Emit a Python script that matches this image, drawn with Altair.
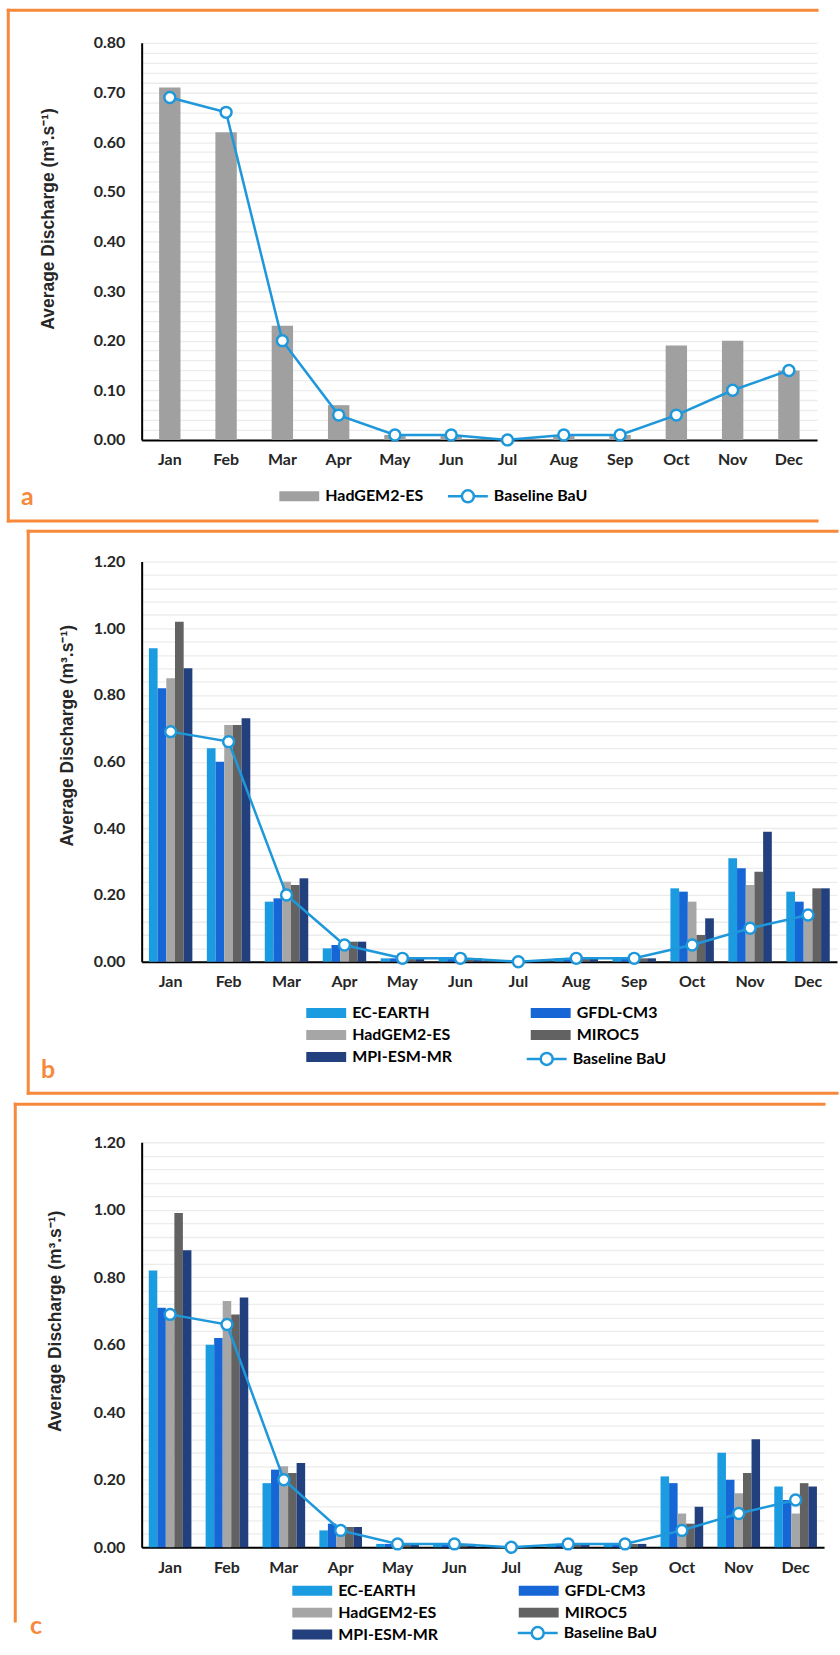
import altair as alt
import pandas as pd

# ---------------- data ----------------
months = ["Jan", "Feb", "Mar", "Apr", "May", "Jun", "Jul", "Aug", "Sep", "Oct", "Nov", "Dec"]
baseline_bau = [0.69, 0.66, 0.20, 0.05, 0.01, 0.01, 0.00, 0.01, 0.01, 0.05, 0.10, 0.14]

# panel a
a_models = ["HadGEM2-ES"]
a_hadgem2_es = [0.71, 0.62, 0.23, 0.07, 0.01, 0.01, 0.00, 0.01, 0.01, 0.19, 0.20, 0.14]

# panels b and c
models = ["EC-EARTH", "GFDL-CM3", "HadGEM2-ES", "MIROC5", "MPI-ESM-MR"]
b_ec_earth = [0.94, 0.64, 0.18, 0.04, 0.01, 0.01, 0.00, 0.01, 0.01, 0.22, 0.31, 0.21]
b_gfdl_cm3 = [0.82, 0.60, 0.19, 0.05, 0.01, 0.01, 0.00, 0.01, 0.01, 0.21, 0.28, 0.18]
b_hadgem2_es = [0.85, 0.71, 0.24, 0.05, 0.01, 0.01, 0.00, 0.01, 0.01, 0.18, 0.23, 0.14]
b_miroc5 = [1.02, 0.71, 0.23, 0.06, 0.01, 0.01, 0.00, 0.01, 0.01, 0.08, 0.27, 0.22]
b_mpi_esm_mr = [0.88, 0.73, 0.25, 0.06, 0.01, 0.01, 0.00, 0.01, 0.01, 0.13, 0.39, 0.22]

c_ec_earth = [0.82, 0.60, 0.19, 0.05, 0.01, 0.01, 0.00, 0.01, 0.01, 0.21, 0.28, 0.18]
c_gfdl_cm3 = [0.71, 0.62, 0.23, 0.07, 0.01, 0.01, 0.00, 0.01, 0.01, 0.19, 0.20, 0.14]
c_hadgem2_es = [0.68, 0.73, 0.24, 0.05, 0.01, 0.01, 0.00, 0.01, 0.01, 0.10, 0.16, 0.10]
c_miroc5 = [0.99, 0.69, 0.22, 0.06, 0.01, 0.01, 0.00, 0.01, 0.01, 0.07, 0.22, 0.19]
c_mpi_esm_mr = [0.88, 0.74, 0.25, 0.06, 0.01, 0.01, 0.00, 0.01, 0.01, 0.12, 0.32, 0.18]

y_ticks_a = [round(i * 0.02, 2) for i in range(41)]
y_ticks_bc = [round(i * 0.04, 2) for i in range(31)]

# ---------------- style ----------------
FONT = "Lato"
TITLE_FONT = "Liberation Sans"
ORANGE = "#f7893b"
LINE_BLUE = "#1e98da"
a_colors = ["#a0a0a0"]
model_colors = ["#1b9be0", "#1766d6", "#a6a6a6", "#626262", "#223f7e"]
RECT_PATH = "M-4,-1H4V1H-4Z"
LINE_PATH = "M-4,0H-1.2M1.2,0H4M-1.2,0A1.2,1.2,0,1,0,1.2,0A1.2,1.2,0,1,0,-1.2,0Z"
Y_TITLE = "Average Discharge (m³.s⁻¹)"
FRAME_LEFT = 7.3
FRAME_RIGHT = 818


def long_df(mods, series):
    rows = []
    for m, vals in zip(mods, series):
        for mon, v in zip(months, vals):
            rows.append({"month": mon, "model": m, "value": v})
    return pd.DataFrame(rows)


base_df = pd.DataFrame({"month": months, "series": "Baseline BaU", "value": baseline_bau})


def panel(letter, bars_df, domain, colors, ymax, ticks, label_every, w, h, pl, pt,
          frame_top, frame_bottom, has_bottom, bar_leg, bar_cols, col_pad, line_leg,
          letter_pos, title_pos, pad_inner):
    x = alt.X("month:N", sort=months,
              scale=alt.Scale(domain=months, paddingInner=pad_inner, paddingOuter=pad_inner / 2),
              axis=alt.Axis(title=None, labelAngle=0, ticks=False, labelPadding=12, grid=False))
    y = alt.Y("value:Q", scale=alt.Scale(domain=[0, ymax], nice=False, zero=True),
              axis=alt.Axis(title=Y_TITLE, values=ticks, format=".2f",
                            labelExpr=f"round(datum.value*100) % {label_every} === 0 ? datum.label : ''",
                            labelOverlap=False, ticks=False, labelPadding=17, grid=True,
                            titleX=title_pos[0] - pl, titleY=title_pos[1] - pt, titleAngle=270,
                            titleAlign="center", titleBaseline="middle", titleFont=TITLE_FONT,
                            titleFontSize=17.5, titleFontWeight="bold", titleColor="#262626"))

    bar_legend = alt.Legend(title=None, orient="none", legendX=bar_leg[0] - pl, legendY=bar_leg[1] - pt,
                            direction="horizontal", columns=bar_cols, columnPadding=col_pad,
                            symbolType=RECT_PATH, symbolSize=100, symbolStrokeWidth=0, symbolOpacity=1,
                            labelOffset=18, rowPadding=6, padding=0)
    line_legend = alt.Legend(title=None, orient="none", legendX=line_leg[0] - pl, legendY=line_leg[1] - pt,
                             symbolType=LINE_PATH, symbolSize=100, symbolStrokeWidth=2.5,
                             symbolFillColor="white", symbolStrokeColor=LINE_BLUE, symbolOpacity=1,
                             labelOffset=18, padding=0)

    bars = alt.Chart(bars_df).mark_bar().encode(
        x=x,
        xOffset=alt.XOffset("model:N", sort=domain,
                            scale=alt.Scale(domain=domain, paddingInner=0, paddingOuter=0)),
        y=y,
        color=alt.Color("model:N", scale=alt.Scale(domain=domain, range=colors), legend=bar_legend),
    )
    stroke = alt.Stroke("series:N", scale=alt.Scale(domain=["Baseline BaU"], range=[LINE_BLUE]),
                        legend=line_legend)
    line = alt.Chart(base_df).mark_line(strokeWidth=2.5).encode(x=x, y=y, stroke=stroke)
    pts = alt.Chart(base_df).mark_point(shape="circle", filled=True, fill="white", size=120,
                                        strokeWidth=2.5, opacity=1).encode(x=x, y=y, stroke=stroke)

    one = pd.DataFrame({"k": [0]})
    fx1, fx2 = FRAME_LEFT - pl, FRAME_RIGHT - pl
    fy1, fy2 = frame_top - pt, frame_bottom - pt
    rule = dict(color=ORANGE, strokeWidth=3, strokeCap="square")
    frame = [
        alt.Chart(one).mark_rule(**rule).encode(x=alt.value(fx1), x2=alt.value(fx2),
                                                 y=alt.value(fy1), y2=alt.value(fy1)),
        alt.Chart(one).mark_rule(**rule).encode(x=alt.value(fx1), x2=alt.value(fx1),
                                                 y=alt.value(fy1), y2=alt.value(fy2)),
    ]
    if has_bottom:
        frame.append(alt.Chart(one).mark_rule(**rule).encode(x=alt.value(fx1), x2=alt.value(fx2),
                                                              y=alt.value(fy2), y2=alt.value(fy2)))
    tag = alt.Chart(pd.DataFrame({"letter": [letter]})).mark_text(
        align="left", baseline="middle", font=FONT, fontSize=25, fontWeight="bold", color=ORANGE
    ).encode(text="letter:N", x=alt.value(letter_pos[0] - pl), y=alt.value(letter_pos[1] - pt))

    return alt.layer(*frame, bars, line, pts, tag).properties(width=w, height=h)


pa = panel("a", long_df(a_models, [a_hadgem2_es]), a_models, a_colors, 0.80, y_ticks_a, 10,
           677, 398, 141, 40, 7.3, 519.2, True,
           (291, 486.5), 1, 20, (460, 486.5), (20, 495), (48, 216), 0.62)
pb = panel("b", long_df(models, [b_ec_earth, b_gfdl_cm3, b_hadgem2_es, b_miroc5, b_mpi_esm_mr]),
           models, model_colors, 1.20, y_ticks_bc, 20,
           697, 401, 121, 560, 529.5, 1093, True,
           (298, 1004.5), 2, 78, (519, 1050.5), (20, 1070), (47, 734), 0.25)
pc = panel("c", long_df(models, [c_ec_earth, c_gfdl_cm3, c_hadgem2_es, c_miroc5, c_mpi_esm_mr]),
           models, model_colors, 1.20, y_ticks_bc, 20,
           684, 406, 134, 1142, 1104, 1622, False,
           (297, 1583.5), 2, 80, (523, 1626), (22, 1627), (48, 1321), 0.25)

chart = (
    alt.vconcat(pa, pb, pc, spacing=5)
    .resolve_scale(x="independent", y="independent", xOffset="independent",
                   color="independent", stroke="independent")
    .resolve_legend(color="independent", stroke="independent")
    .properties(padding={"left": 6, "top": 6, "right": 0, "bottom": 0}, background="white")
    .configure_view(strokeWidth=0)
    .configure_axis(labelFont=FONT, labelFontSize=16, labelFontWeight="bold", labelColor="#262626",
                    domainColor="#000000", domainWidth=2, gridColor="#ececec", gridWidth=1.3)
    .configure_legend(labelFont=FONT, labelFontSize=16, labelFontWeight="bold", labelColor="#000000")
)

chart.save("out.html", embed_options={"renderer": "svg", "actions": False})
